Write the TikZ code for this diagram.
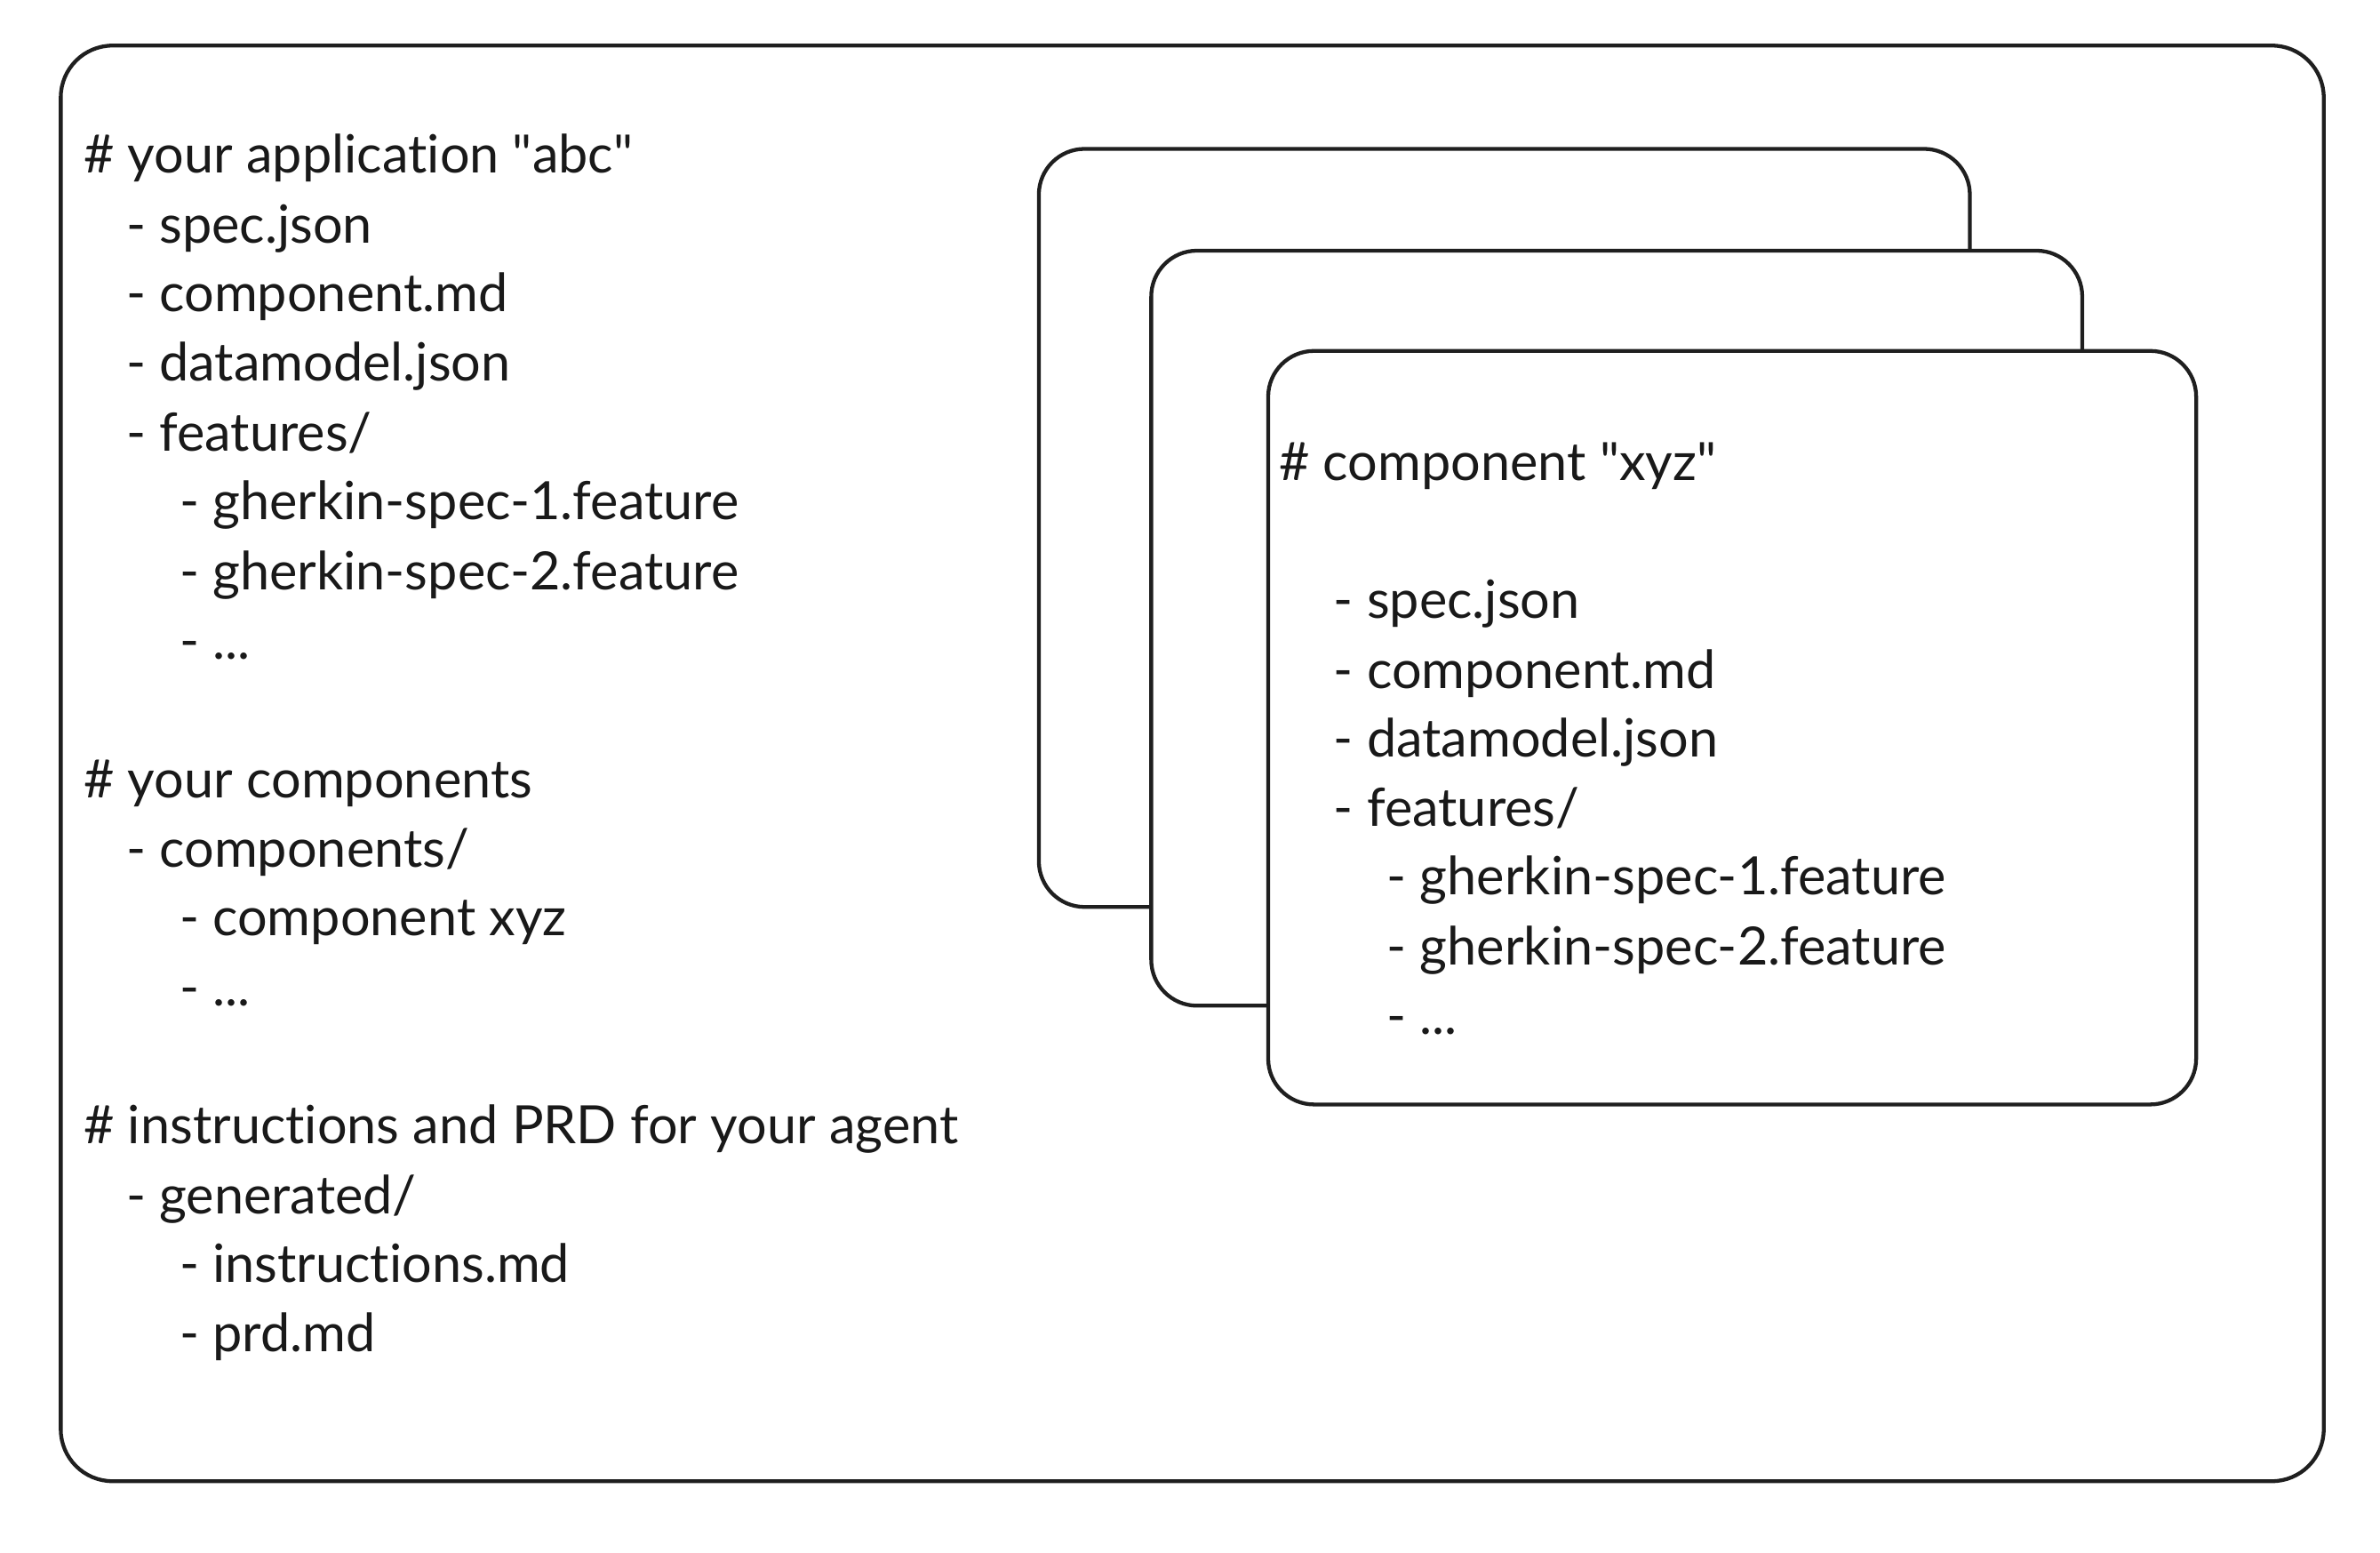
\documentclass[tikz,border=0pt]{standalone}
\usepackage{fontspec}
\setmainfont{Lato}[Ligatures={NoCommon}]
\newcommand{\dq}{\textquotedbl}
\begin{document}
\begin{tikzpicture}[x=0.9955pt,y=-0.9955pt,
  frame/.style={draw=black!88, line width=2.5pt, rounded corners=34pt},
  card/.style={draw=black!88, fill=white, line width=2.5pt, rounded corners=30pt},
  txt/.style={anchor=base west, inner sep=0pt, text=black!90, font=\fontsize{34.6}{40}\selectfont}]
\useasboundingbox (0,0) rectangle (1567.05,1021.7);
\fill[white] (0,0) rectangle (1567.05,1021.7);
% outer frame
\draw[frame] (40,30) rectangle (1530,975);
% stacked cards
\draw[card] (684,98) rectangle (1297,597);
\draw[card] (758,165) rectangle (1371,662);
\draw[card] (835,231) rectangle (1446,727);
% left column text
\node[txt] (a0)  at (55,114)  {\# your application \dq abc\dq};
\node[txt] (a1)  at (83,160)  {- spec.json};
\node[txt] (a2)  at (83,205)  {- component.md};
\node[txt] (a3)  at (83,251)  {- datamodel.json};
\node[txt] (a4)  at (83,297)  {- features/};
\node[txt] (a5)  at (118,342) {- gherkin-spec-1.feature};
\node[txt] (a6)  at (118,388) {- gherkin-spec-2.feature};
\node[txt] (a7)  at (118,434) {- ...};
\node[txt] (b0)  at (55,525)  {\# your components};
\node[txt] (b1)  at (83,571)  {- components/};
\node[txt] (b2)  at (118,616) {- component xyz};
\node[txt] (b3)  at (118,662) {- ...};
\node[txt] (c0)  at (55,753)  {\# instructions and PRD for your agent};
\node[txt] (c1)  at (83,799)  {- generated/};
\node[txt] (c2)  at (118,844) {- instructions.md};
\node[txt] (c3)  at (118,890) {- prd.md};
% card text
\node[txt] (d0)  at (842,316) {\# component \dq xyz\dq};
\node[txt] (d1)  at (878,407) {- spec.json};
\node[txt] (d2)  at (878,453) {- component.md};
\node[txt] (d3)  at (878,498) {- datamodel.json};
\node[txt] (d4)  at (878,544) {- features/};
\node[txt] (d5)  at (913,589) {- gherkin-spec-1.feature};
\node[txt] (d6)  at (913,635) {- gherkin-spec-2.feature};
\node[txt] (d7)  at (913,681) {- ...};
\end{tikzpicture}
\end{document}
